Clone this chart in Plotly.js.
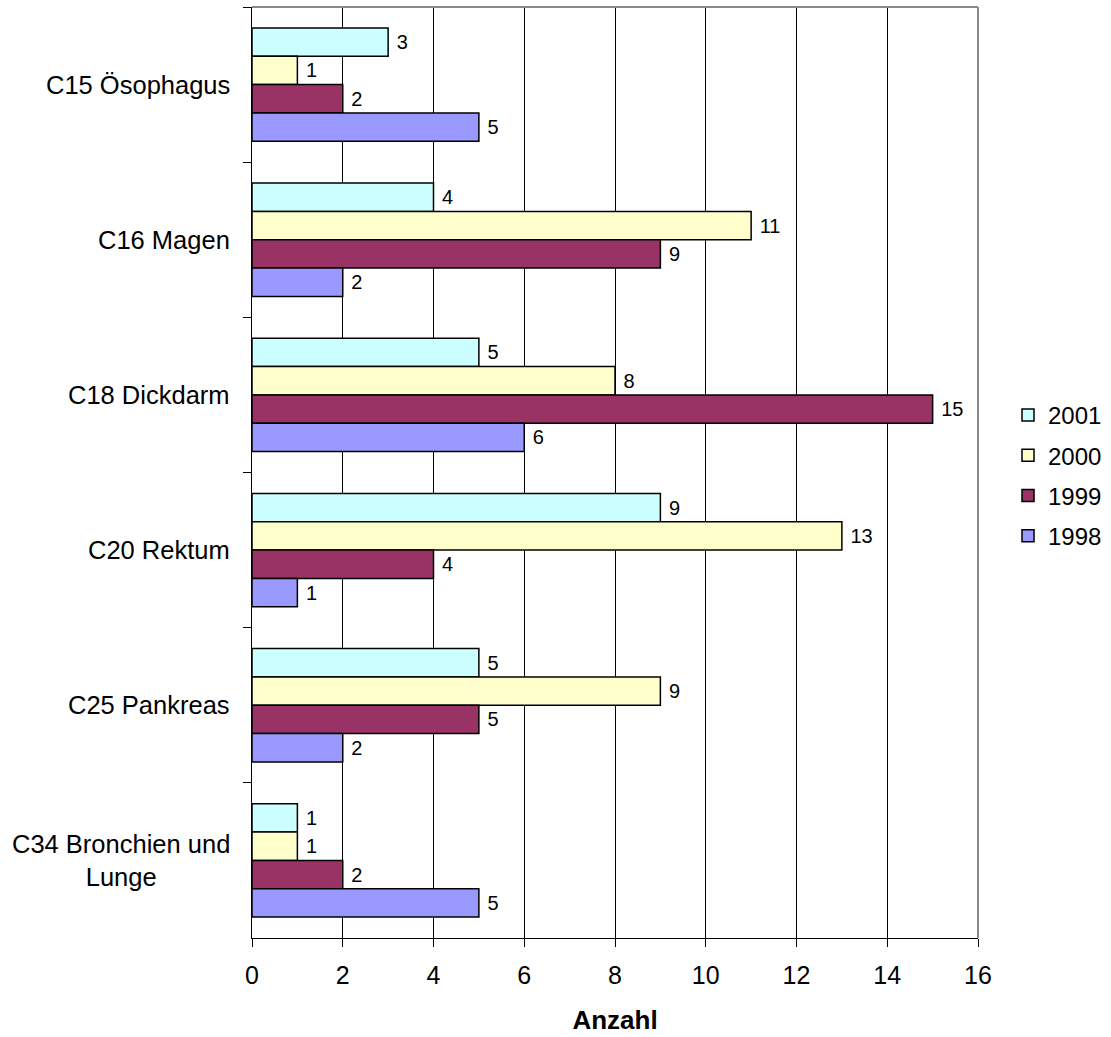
<!DOCTYPE html>
<html><head><meta charset="utf-8">
<script src="https://cdn.plot.ly/plotly-3.0.1.min.js"></script>
<style>html,body{margin:0;padding:0;background:#fff;}#chart{width:1111px;height:1037px;}</style>
</head><body><div id="chart"></div>
<script>
const categories = ["C15 Ösophagus","C16 Magen","C18 Dickdarm","C20 Rektum","C25 Pankreas","C34 Bronchien und<br>Lunge"];
const years = ["2001","2000","1999","1998"];
const v2001 = [3,4,5,9,5,1];
const v2000 = [1,11,8,13,9,1];
const v1999 = [2,9,15,4,5,2];
const v1998 = [5,2,6,1,2,5];
const colors = ["#CCFFFF","#FFFFCC","#993366","#9999FF"];
const series = [v2001,v2000,v1999,v1998];
const xTicks = [0,2,4,6,8,10,12,14,16];

const font = "Liberation Sans, Arial, sans-serif";
const traces = series.map((vals,i)=>({
  type:"bar", orientation:"h", name:years[i], legendgroup:years[i], y:categories, x:vals,
  marker:{color:colors[i], line:{color:"#000", width:1.5}},
  text:vals.map(String), texttemplate:" %{text}", textposition:"outside", cliponaxis:false, constraintext:"none",
  textfont:{family:font,size:20,color:"#000"}
}));
const annotations = categories.map(c=>({
  xref:"paper", yref:"y", x:0, y:c, text:c, showarrow:false, xanchor:"right", yanchor:"middle",
  align:"center", xshift:-20, font:{family:font,size:25.5,color:"#000"}
}));
const layout = {
  width:1111, height:1037,
  margin:{l:252,r:133,t:7,b:99},
  paper_bgcolor:"#fff", plot_bgcolor:"#fff",
  barmode:"group", bargap:0.27, bargroupgap:0,
  showlegend:true,
  legend:{xref:"container", yref:"container", x:0.9073, y:0.5415, xanchor:"left", yanchor:"middle",
    font:{family:font,size:24,color:"#000"}, itemwidth:30, tracegroupgap:6},
  xaxis:{range:[0,16], tickvals:xTicks, ticktext:xTicks.map(String), showgrid:true, gridcolor:"#000", gridwidth:1,
    ticks:"outside", ticklen:8, tickcolor:"#000", showline:true, linecolor:"#000", linewidth:1, mirror:false, zeroline:false,
    tickfont:{family:font,size:25,color:"#000"}, ticklabelstandoff:7,
    title:{text:"<b>Anzahl</b>", font:{family:font,size:26,color:"#000"}, standoff:22}},
  yaxis:{type:"category", autorange:"reversed", tickson:"boundaries", ticks:"outside", ticklen:8, tickcolor:"#000",
    showline:true, linecolor:"#000", linewidth:1, showgrid:false, showticklabels:false},
  annotations:annotations,
  shapes:[
    {type:"line", xref:"paper", yref:"paper", x0:0, x1:1, y0:1, y1:1, line:{color:"#888", width:2}},
    {type:"line", xref:"paper", yref:"paper", x0:1, x1:1, y0:0, y1:1, line:{color:"#888", width:2}}
  ]
};
Plotly.newPlot("chart", traces, layout, {displayModeBar:false});
</script></body></html>
